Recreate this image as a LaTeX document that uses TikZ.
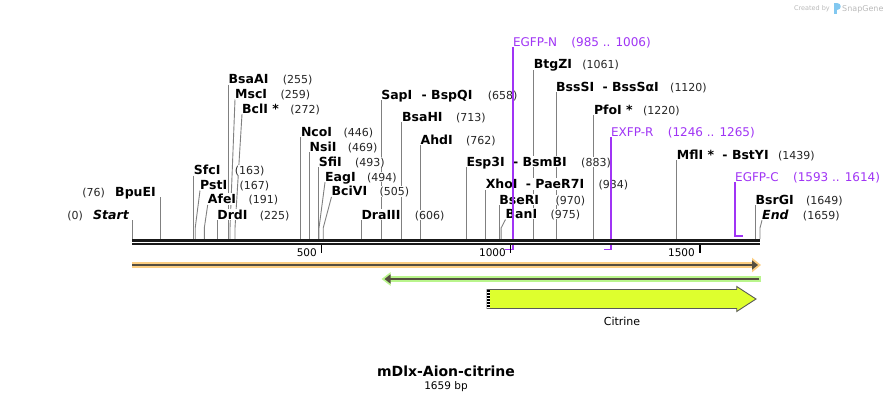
\documentclass[tikz,border=0pt]{standalone}
\usepackage{fontspec}
\setmainfont{DejaVu Sans}
\usepackage{tikz}
\definecolor{siteGray}{RGB}{128,128,128}
\definecolor{primerPurple}{RGB}{160,52,245}
\definecolor{orangeBand}{RGB}{252,206,130}
\definecolor{greenBand}{RGB}{185,245,140}
\definecolor{featDark}{RGB}{85,78,64}
\definecolor{citrineFill}{RGB}{222,255,46}
\definecolor{markGray}{RGB}{185,185,185}
\definecolor{logoBlue}{RGB}{130,200,240}
\usetikzlibrary{arrows.meta, positioning, calc}
\pgfdeclarelayer{lines}
\pgfsetlayers{lines,main}

\begin{document}
\begin{tikzpicture}[
    x=1pt, y=-1pt,
    cut/.style={font=\bfseries\fontsize{12.5}{12.5}\selectfont, fill=white, inner xsep=0pt, inner ysep=1pt, text depth=0pt, anchor=base west},
    cutend/.style={cut, font=\bfseries\itshape\fontsize{12.5}{12.5}\selectfont},
    num/.style={font=\fontsize{11}{11}\selectfont, text=black!85, fill=white, inner xsep=0pt, inner ysep=1pt, text depth=0pt},
    site/.style={draw=siteGray, line width=0.9pt},
    primer/.style={font=\fontsize{12}{12}\selectfont, text=primerPurple, fill=white, inner xsep=0pt, inner ysep=1pt, text depth=0pt, anchor=base west},
    bind/.style={draw=primerPurple, line width=1.6pt},
    backbone/.style={draw=black!90, line width=2.7pt, double=white, double distance=1pt},
    scaletick/.style={draw=black, line width=1.6pt},
    ticklabel/.style={font=\fontsize{10.5}{10.5}\selectfont, inner sep=0pt, anchor=base east},
    band/.style={line width=6.5pt},
    strand/.style={draw=featDark, line width=2.5pt},
    citrine/.style={draw=black!65, line width=0.9pt, fill=citrineFill}
]
    \useasboundingbox (0,0) rectangle (893,402);

    % watermark
    \node[font=\fontsize{6.5}{6.5}\selectfont, text=markGray, inner sep=0pt, anchor=base east] (made) at (830,10.5) {Created by};
    \fill[logoBlue] (834,3) rectangle (836.5,14);
    \fill[logoBlue] (836.5,3) .. controls (842,3) and (842,10) .. (836.5,10) -- cycle;
    \node[font=\fontsize{8}{8}\selectfont, text=markGray, inner sep=0pt, anchor=base west] (brand) at (842,11) {SnapGene};

    % backbone reference
    \coordinate (bbL) at (132,239);
    \coordinate (bbR) at (760,239);

    % sites, left part
    \node[cutend, anchor=base east] (start) at (129,219) {Start};
    \node[num, base left=10pt of start] (startN) {(0)};
    \node[cut, anchor=base east] (bpuei) at (156,196) {BpuEI};
    \node[num, base left=10pt of bpuei] (bpueiN) {(76)};
    \node[cut] (sfci) at (193.7,174.3) {SfcI};
    \node[num, base right=14pt of sfci] (sfciN) {(163)};
    \node[cut] (psti) at (200,189.3) {PstI};
    \node[num, base right=12pt of psti] (pstiN) {(167)};
    \node[cut] (afei) at (207.7,203.7) {AfeI};
    \node[num, base right=12pt of afei] (afeiN) {(191)};
    \node[cut] (drdi) at (217.2,219) {DrdI};
    \node[num, base right=12pt of drdi] (drdiN) {(225)};
    \node[cut] (bsaai) at (228.5,83.3) {BsaAI};
    \node[num, base right=14pt of bsaai] (bsaaiN) {(255)};
    \node[cut] (msci) at (235,98.3) {MscI};
    \node[num, base right=13pt of msci] (msciN) {(259)};
    \node[cut] (bcli) at (242,113) {BclI *};
    \node[num, base right=11pt of bcli] (bcliN) {(272)};

    \coordinate (s76) at (160.8,239);
    \coordinate (s167) at (195.2,239);
    \coordinate (s191) at (204.3,239);
    \coordinate (s259) at (230,239);
    \coordinate (s272) at (235,239);
    \begin{pgfonlayer}{lines}
    \draw[site] (bbL) -- (bbL |- start.south);
    \draw[site] (s76) -- (s76 |- bpuei.south);
    \draw[site] (sfci.south west) -- (sfci.south west |- bbL);
    \draw[site] (s167) -- ++(0,-11) -- (psti.south west);
    \draw[site] (s191) -- ++(0,-11) -- (afei.south west);
    \draw[site] (drdi.south west) -- (drdi.south west |- bbL);
    \draw[site] (bsaai.south west) -- (bsaai.south west |- bbL);
    \draw[site] (s259) -- ++(0,-11) -- (msci.south west);
    \draw[site] (s272) -- ++(0,-11) -- (bcli.south west);
    \end{pgfonlayer}

    % sites, middle part
    \node[cut] (ncoi) at (300.8,136) {NcoI};
    \node[num, base right=11pt of ncoi] (ncoiN) {(446)};
    \node[cut] (nsii) at (309.5,151) {NsiI};
    \node[num, base right=11pt of nsii] (nsiiN) {(469)};
    \node[cut] (sfii) at (318.6,166) {SfiI};
    \node[num, base right=13pt of sfii] (sfiiN) {(493)};
    \node[cut] (eagi) at (325,181) {EagI};
    \node[num, base right=11pt of eagi] (eagiN) {(494)};
    \node[cut] (bcivi) at (331.5,195.7) {BciVI};
    \node[num, base right=12pt of bcivi] (bciviN) {(505)};
    \node[cut] (draiii) at (361.4,219) {DraIII};
    \node[num, base right=14pt of draiii] (draiiiN) {(606)};
    \node[cut] (sapi) at (381.1,99) {SapI\hspace{5pt} - BspQI};
    \node[num, base right=15pt of sapi] (sapiN) {(658)};
    \node[cut] (bsahi) at (401.9,121) {BsaHI};
    \node[num, base right=13pt of bsahi] (bsahiN) {(713)};
    \node[cut] (ahdi) at (420.4,144) {AhdI};
    \node[num, base right=13pt of ahdi] (ahdiN) {(762)};
    \node[cut] (esp3i) at (466.3,166) {Esp3I\hspace{4pt} - BsmBI};
    \node[num, base right=14pt of esp3i] (esp3iN) {(883)};
    \node[cut] (xhoi) at (485.6,188.7) {XhoI\hspace{4pt} - PaeR7I};
    \node[num, base right=14pt of xhoi] (xhoiN) {(934)};
    \node[cut] (bseri) at (499.2,204) {BseRI};
    \node[num, base right=16pt of bseri] (bseriN) {(970)};
    \node[cut] (bani) at (505.5,218.3) {BanI};
    \node[num, base right=13pt of bani] (baniN) {(975)};

    \coordinate (s494) at (319,239);
    \coordinate (s505) at (323.2,239);
    \coordinate (s975) at (501.1,239);
    \begin{pgfonlayer}{lines}
    \draw[site] (ncoi.south west) -- (ncoi.south west |- bbL);
    \draw[site] (nsii.south west) -- (nsii.south west |- bbL);
    \draw[site] (sfii.south west) -- (sfii.south west |- bbL);
    \draw[site] (s494) -- ++(0,-11) -- (eagi.south west);
    \draw[site] (s505) -- ++(0,-11) -- (bcivi.south west);
    \draw[site] (draiii.south west) -- (draiii.south west |- bbL);
    \draw[site] (sapi.south west) -- (sapi.south west |- bbL);
    \draw[site] (bsahi.south west) -- (bsahi.south west |- bbL);
    \draw[site] (ahdi.south west) -- (ahdi.south west |- bbL);
    \draw[site] (esp3i.south west) -- (esp3i.south west |- bbL);
    \draw[site] (xhoi.south west) -- (xhoi.south west |- bbL);
    \draw[site] (bseri.south west) -- (bseri.south west |- bbL);
    \draw[site] (s975) -- ++(0,-11) -- (bani.south west);
    \end{pgfonlayer}

    % sites, right part
    \node[cut] (btgzi) at (533.6,68.7) {BtgZI};
    \node[num, base right=10pt of btgzi] (btgziN) {(1061)};
    \node[cut] (bsssi) at (556,91) {BssSI\hspace{4pt} - BssSαI};
    \node[num, base right=11pt of bsssi] (bsssiN) {(1120)};
    \node[cut] (pfoi) at (593.8,114) {PfoI *};
    \node[num, base right=10pt of pfoi] (pfoiN) {(1220)};
    \node[cut] (mfli) at (676.7,159) {MflI *\hspace{4pt} - BstYI};
    \node[num, base right=9pt of mfli] (mfliN) {(1439)};
    \node[cut] (bsrgi) at (755.5,204) {BsrGI};
    \node[num, base right=12pt of bsrgi] (bsrgiN) {(1649)};
    \node[cutend] (end) at (762,219) {End};
    \node[num, base right=14pt of end] (endN) {(1659)};

    \coordinate (s1659) at (760,239);
    \begin{pgfonlayer}{lines}
    \draw[site] (btgzi.south west) -- (btgzi.south west |- bbL);
    \draw[site] (bsssi.south west) -- (bsssi.south west |- bbL);
    \draw[site] (pfoi.south west) -- (pfoi.south west |- bbL);
    \draw[site] (mfli.south west) -- (mfli.south west |- bbL);
    \draw[site] (bsrgi.south west) -- (bsrgi.south west |- bbL);
    \draw[site] (s1659) -- ++(0,-11) -- (end.south west);
    \end{pgfonlayer}

    % primers
    \node[primer] (egfpn) at (512.8,46) {EGFP-N};
    \node[primer, base right=14pt of egfpn] (egfpnN) {(985 .. 1006)};
    \node[primer] (exfpr) at (610.9,136) {EXFP-R};
    \node[primer, base right=14pt of exfpr] (exfprN) {(1246 .. 1265)};
    \node[primer] (egfpc) at (735,181) {EGFP-C};
    \node[primer, base right=14pt of egfpc] (egfpcN) {(1593 .. 1614)};
    \coordinate (p985) at (504.9,249.5);
    \coordinate (p1246) at (603.7,249.5);
    \coordinate (p1614) at (743,236);
    \draw[bind] (egfpn.south west) |- (p985);
    \draw[bind] (exfpr.south west) |- (p1246);
    \draw[bind] (egfpc.south west) |- (p1614);

    % sequence line
    \coordinate (ori) at (132,242.2);
    \coordinate (fin) at (760,242.2);
    \draw[backbone] (ori) -- (fin);

    % scale
    \coordinate (t500) at (321.3,245.4);
    \coordinate (t1000) at (510.5,245.4);
    \coordinate (t1500) at (699.8,245.4);
    \draw[scaletick] (t500) -- ++(0,7.5);
    \draw[scaletick] (t1000) -- ++(0,7.5);
    \draw[scaletick] (t1500) -- ++(0,7.5);
    \node[ticklabel] (l500) at (317,256) {500};
    \node[ticklabel] (l1000) at (506,256) {1000};
    \node[ticklabel] (l1500) at (695,256) {1500};

    % features
    \coordinate (orangeL) at (132,265);
    \coordinate (orangeR) at (761,265);
    \draw[band, orangeBand, -{Triangle[length=9pt,width=14pt]}] (orangeL) -- (orangeR);
    \draw[strand, -{Triangle[length=6pt,width=9pt]}] (orangeL) -- ($(orangeR)+(-3,0)$);
    \coordinate (greenR) at (761,279);
    \coordinate (greenL) at (381.5,279);
    \draw[band, line width=5.5pt, greenBand, -{Triangle[length=9pt,width=13pt]}] (greenR) -- (greenL);
    \draw[strand, -{Triangle[length=6pt,width=9pt]}] ($(greenR)+(-2,0)$) -- ($(greenL)+(3,0)$);

    \draw[citrine] (487,289.5) -- (736.7,289.5) -- (736.7,286.5) -- (756,299) -- (736.7,311.5) -- (736.7,308.5) -- (487,308.5) -- cycle;
    \draw[white, line width=2.5pt] (488.3,290) -- (488.3,308);
    \draw[black, line width=2.5pt, dash pattern=on 1.5pt off 1.5pt] (488.3,290) -- (488.3,308);
    \node[font=\fontsize{11}{11}\selectfont, inner sep=0pt, anchor=base] (citrineLabel) at (622,325) {Citrine};

    % title
    \node[font=\bfseries\fontsize{14}{14}\selectfont, inner sep=0pt, anchor=base] (title) at (446,376) {mDlx-Aion-citrine};
    \node[font=\fontsize{10.5}{10.5}\selectfont, inner sep=0pt, anchor=base] (size) at (446,389) {1659 bp};
\end{tikzpicture}
\end{document}
